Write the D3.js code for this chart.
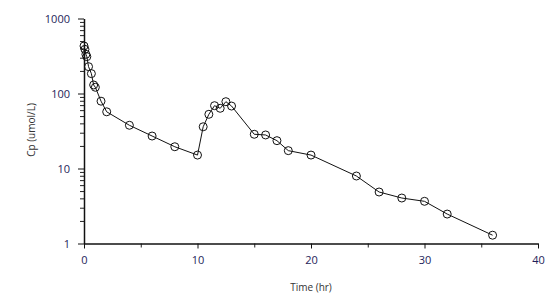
<!DOCTYPE html>
<html>
<head>
<meta charset="utf-8">
<title>Cp vs Time</title>
<script src="https://d3js.org/d3.v7.min.js"></script>
<style>
  body { margin: 0; background: #fff; }
  .tick text { font-family: "Open Sans", sans-serif; font-size: 11px; fill: #1e1e5a; }
  .title { font-family: "Open Sans", sans-serif; font-size: 10px; fill: #333; }
</style>
</head>
<body>
<svg width="554" height="296"></svg>
<script>
// sampling times (hr)
const times = [0, 0.083, 0.167, 0.25, 0.4, 0.65, 0.85, 1, 1.5, 2, 4, 6, 8,
  10, 10.5, 11, 11.5, 12, 12.5, 13, 15, 16, 17, 18, 20, 24, 26, 28, 30, 32, 36];
// concentrations (umol/L)
const cp = [430, 388, 333, 310, 228, 184, 130, 121, 79, 57, 37.7, 27.1, 19.5,
  15.1, 36, 52.8, 68.8, 63.5, 77.8, 68, 28.6, 28, 23.5, 17.3, 15.1, 7.94, 4.86, 4.04, 3.65, 2.47, 1.29];
const xTicks = [0, 10, 20, 30, 40];
const yTicks = [1, 10, 100, 1000];

const data = times.map((t, i) => ({ t: t, v: cp[i] }));

const svg = d3.select("svg");
const x = d3.scaleLinear().domain([0, 40]).range([84, 538]);
const y = d3.scaleLog().domain([1, 1000]).range([243.5, 18.5]);

// minor ticks
const yMinor = [];
[1, 10, 100].forEach(d => { for (let k = 2; k <= 9; k++) yMinor.push(d * k); });

svg.append("g")
  .attr("transform", "translate(0,243.5)")
  .call(d3.axisBottom(x).tickValues([5, 15, 25, 35]).tickSize(4).tickFormat(""))
  .call(g => g.select(".domain").remove())
  .selectAll("line").attr("stroke", "#222");

svg.append("g")
  .attr("transform", "translate(84,0)")
  .call(d3.axisLeft(y).tickValues(yMinor).tickSize(4).tickFormat(""))
  .call(g => g.select(".domain").remove())
  .selectAll("line").attr("stroke", "#222");

const xAxis = svg.append("g")
  .attr("transform", "translate(0,243.5)")
  .call(d3.axisBottom(x).tickValues(xTicks).tickSize(5).tickSizeOuter(0).tickPadding(8));

const yAxis = svg.append("g")
  .attr("transform", "translate(84,0)")
  .call(d3.axisLeft(y).tickValues(yTicks).tickFormat(d3.format("d")).tickSize(6).tickSizeOuter(0).tickPadding(8));

[xAxis, yAxis].forEach(a => {
  a.select(".domain").attr("stroke", "#111").attr("stroke-width", 1.5);
  a.selectAll(".tick line").attr("stroke", "#111");
});

// data line + markers
const line = d3.line().x(d => x(d.t)).y(d => y(d.v));
svg.append("path")
  .datum(data)
  .attr("d", line)
  .attr("fill", "none")
  .attr("stroke", "#111")
  .attr("stroke-width", 1);

svg.selectAll("circle")
  .data(data)
  .enter()
  .append("circle")
  .attr("cx", d => x(d.t))
  .attr("cy", d => y(d.v))
  .attr("r", 4)
  .attr("fill", "none")
  .attr("stroke", "#111")
  .attr("stroke-width", 1);

// axis titles
svg.append("text")
  .attr("class", "title")
  .attr("x", 311)
  .attr("y", 291)
  .attr("text-anchor", "middle")
  .text("Time (hr)");

svg.append("text")
  .attr("class", "title")
  .attr("transform", "translate(35,130) rotate(-90)")
  .attr("text-anchor", "middle")
  .text("Cp (umol/L)");
</script>
</body>
</html>
